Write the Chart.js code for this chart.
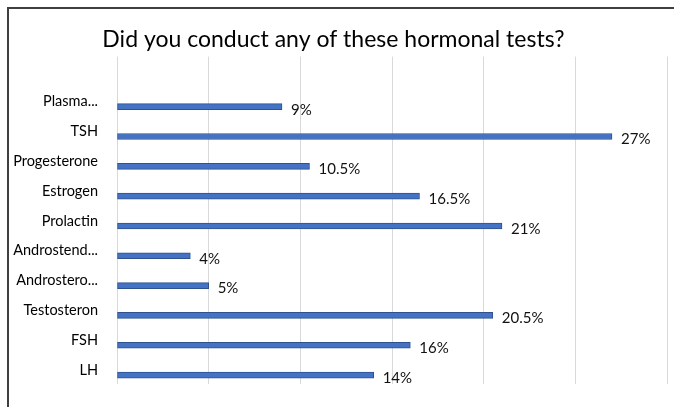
<!DOCTYPE html>
<html>
<head>
<meta charset="utf-8">
<script src="https://cdn.jsdelivr.net/npm/chart.js@4.4.0/dist/chart.umd.min.js"></script>
<style>
    html, body { margin: 0; padding: 0; background: #fff; overflow: hidden; }
    #wrap { position: relative; width: 674px; height: 407px; }
    #frame {
        position: absolute; left: 7px; top: 7px; width: 700px; height: 440px;
        border: 2px solid #3f3f3f; pointer-events: none;
    }
    canvas { position: absolute; left: 0; top: 0; }
</style>
</head>
<body>
<div id="wrap">
    <canvas id="grafic" width="674" height="407"></canvas>
    <div id="frame"></div>
</div>
<script>
// categories, top to bottom
const categories = ['Plasma...', 'TSH', 'Progesterone', 'Estrogen', 'Prolactin',
    'Androstend...', 'Androstero...', 'Testosteron', 'FSH', 'LH'];
// percentages
const values = [9, 27, 10.5, 16.5, 21, 4, 5, 20.5, 16, 14];
const xTicks = [0, 5, 10, 15, 20, 25, 30];

const fontFamily = 'Lato, "Open Sans", sans-serif';

// value labels to the right of each bar
const valueLabels = {
    id: 'valueLabels',
    afterDatasetsDraw: function(chart) {
        const ctx = chart.ctx;
        const meta = chart.getDatasetMeta(0);
        ctx.save();
        ctx.font = '15px ' + fontFamily;
        ctx.fillStyle = '#111';
        ctx.textAlign = 'left';
        ctx.textBaseline = 'middle';
        meta.data.forEach(function(bar, i) {
            ctx.fillText(values[i] + '%', bar.x + 9, bar.y + 3);
        });
        ctx.restore();
    }
};

const ctx = document.getElementById('grafic').getContext('2d');

const myChart = new Chart(ctx, {
    type: 'bar',
    data: {
        datasets: [{
            label: 'Tests',
            data: values.map(function(v, i) { return { x: v, y: i }; }),
            backgroundColor: '#4472C4',
            borderColor: '#2F528F',
            borderWidth: 1,
            borderSkipped: false,
            barThickness: 6
        }]
    },
    options: {
        indexAxis: 'y',
        responsive: false,
        animation: false,
        layout: {
            padding: { left: 0, right: 7, top: 0, bottom: 23 }
        },
        plugins: {
            legend: { display: false },
            tooltip: { enabled: false },
            title: {
                display: true,
                text: 'Did you conduct any of these hormonal tests?',
                color: '#000',
                font: { family: fontFamily, size: 23, weight: 'normal' },
                padding: { top: 26, bottom: 3 }
            }
        },
        scales: {
            x: {
                type: 'linear',
                min: 0,
                max: 30,
                afterBuildTicks: function(scale) {
                    scale.ticks = xTicks.map(function(v) { return { value: v }; });
                },
                ticks: { display: false },
                grid: { color: '#d9d9d9', lineWidth: 1, drawTicks: false },
                border: { display: false }
            },
            y: {
                type: 'linear',
                offset: false,
                reverse: true,
                min: -1.68,
                max: 9.3,
                afterFit: function(scale) { scale.width = 117; },
                afterBuildTicks: function(scale) {
                    scale.ticks = categories.map(function(c, i) { return { value: i }; });
                },
                ticks: {
                    padding: 11,
                    labelOffset: -5,
                    color: '#000',
                    font: { family: fontFamily, size: 14.5 },
                    callback: function(value) { return categories[value] || ''; }
                },
                grid: { display: false, offset: false },
                border: { display: false }
            }
        }
    },
    plugins: [valueLabels]
});
</script>
</body>
</html>
